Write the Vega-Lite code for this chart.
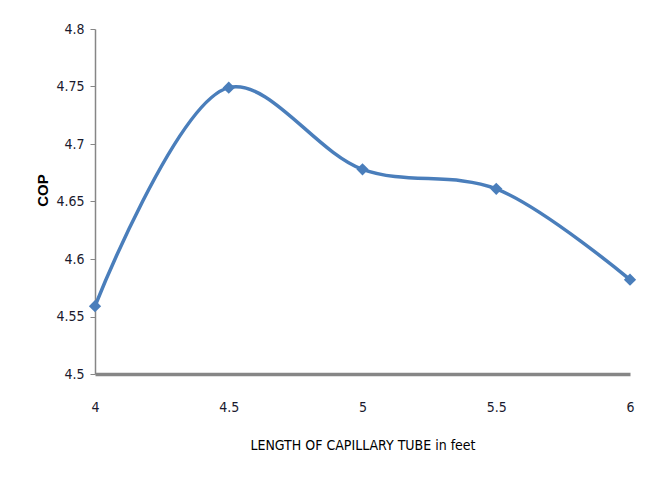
{
  "$schema": "https://vega.github.io/schema/vega-lite/v6.json",
  "autosize": {"type": "none"},
  "width": 535,
  "height": 345,
  "padding": {"left": 95, "top": 29, "right": 21, "bottom": 110},
  "background": "white",
  "config": {"view": {"stroke": null}, "font": "DejaVu Sans Condensed, Roboto"},
  "data": {"values": [
    {"length": 4, "cop": 4.559},
    {"length": 4.5, "cop": 4.749},
    {"length": 5, "cop": 4.678},
    {"length": 5.5, "cop": 4.661},
    {"length": 6, "cop": 4.582}
  ]},
  "layer": [
    {
      "mark": {"type": "line", "interpolate": "catmull-rom", "color": "#4a7ebb", "strokeWidth": 3.5},
      "encoding": {
        "x": {"field": "length", "type": "quantitative",
          "scale": {"domain": [4, 6], "nice": false, "zero": false},
          "axis": {"values": [4, 4.5, 5, 5.5, 6], "grid": false, "ticks": false, "labelFlush": false,
            "domainColor": "#868686", "domainWidth": 3.5, "labelPadding": 26,
            "labelFontSize": 14, "labelColor": "#1a1a2e", "labelFont": "DejaVu Sans Condensed, Roboto",
            "labelExpr": "datum.value % 1 == 0 ? format(datum.value, 'd') : format(datum.value, '.1f')",
            "title": "LENGTH OF CAPILLARY TUBE in  feet", "titleFontSize": 14, "titleFontWeight": "normal",
            "titleFont": "DejaVu Sans Condensed, Roboto", "titleColor": "#000000", "titlePadding": 24}},
        "y": {"field": "cop", "type": "quantitative",
          "scale": {"domain": [4.5, 4.8], "nice": false, "zero": false},
          "axis": {"values": [4.5, 4.55, 4.6, 4.65, 4.7, 4.75, 4.8], "grid": false, "tickSize": 5,
            "tickColor": "#868686", "domainColor": "#868686", "domainWidth": 1.5,
            "labelFontSize": 14, "labelColor": "#1a1a2e", "labelPadding": 6, "labelFont": "DejaVu Sans Condensed, Roboto",
            "labelExpr": "datum.value == 4.5 || datum.value == 4.6 || datum.value == 4.7 || datum.value == 4.8 ? format(datum.value, '.1f') : format(datum.value, '.2f')",
            "title": "COP", "titleFontSize": 15, "titleFontWeight": "bold", "titleFont": "Liberation Sans",
            "titleColor": "#000000", "titleX": -53, "titleY": 161, "titleAngle": 270, "titleAlign": "center", "titleBaseline": "middle"}}
      }
    },
    {
      "mark": {"type": "point", "shape": "diamond", "filled": true, "color": "#4a7ebb", "size": 150, "opacity": 1},
      "encoding": {
        "x": {"field": "length", "type": "quantitative"},
        "y": {"field": "cop", "type": "quantitative"}
      }
    }
  ]
}
